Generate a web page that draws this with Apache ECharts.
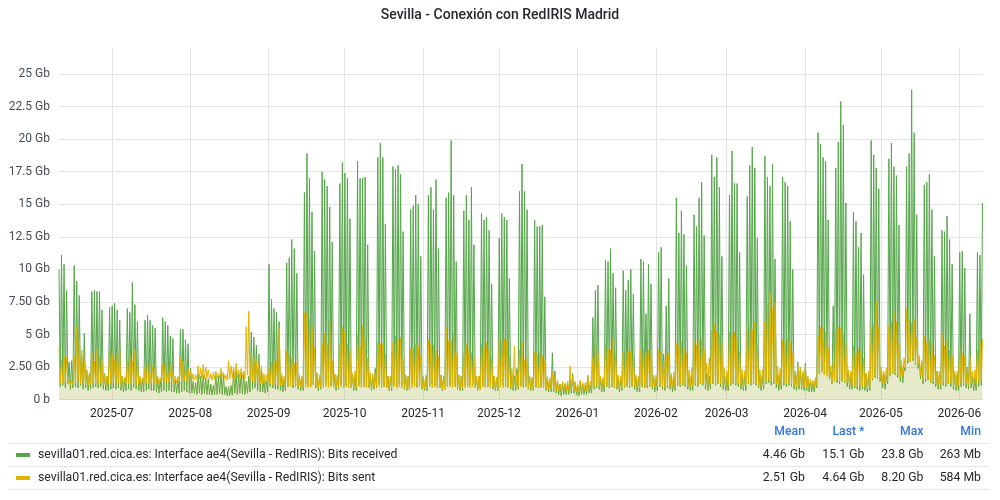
<!DOCTYPE html>
<html>
<head>
<meta charset="utf-8">
<title>Sevilla - Conexión con RedIRIS Madrid</title>
<script src="https://cdn.jsdelivr.net/npm/echarts@6/dist/echarts.min.js"></script>
<style>
  html, body { margin: 0; padding: 0; background: #ffffff; }
  #chart-container { width: 1000px; height: 500px; }
</style>
</head>
<body>
<div id="chart-container"></div>
<script>
// one peak (03:00) and one trough (15:00) per day, first day Tue 2025-06-10
const startDay = Date.UTC(2025, 5, 10, 3);

const recvHi = [
  10.0, 11.1, 10.4, 8.4, 2.9, 3.0,
  10.3, 9.1, 8.0, 3.3, 5.1, 2.2, 2.0,
  8.3, 8.4, 8.3, 8.3, 6.9, 2.0, 1.8,
  // 30 Jun
  7.1, 7.2, 7.4, 6.9, 6.1, 1.8, 1.7,
  7.0, 6.7, 9.0, 7.3, 6.0, 1.7, 1.6,
  6.1, 6.5, 6.1, 5.7, 5.5, 1.6, 1.5,
  6.3, 6.0, 5.7, 4.9, 4.7, 1.5, 1.5,
  5.4, 5.4, 4.6, 4.3, 2.4, 1.4, 1.3,
  // 4 Aug
  2.0, 1.8, 1.9, 1.7, 1.6, 1.2, 1.1,
  1.9, 1.8, 2.2, 1.9, 1.0, 1.0, 1.1,
  2.3, 2.2, 2.0, 2.1, 2.0, 1.4, 1.8,
  5.2, 4.8, 4.2, 3.5, 2.4, 1.5, 1.4,
  // 1 Sep
  10.4, 7.7, 7.0, 6.7, 6.0, 1.8, 1.6,
  10.5, 10.9, 12.3, 11.6, 9.7, 1.8, 1.7,
  15.9, 18.9, 17.0, 14.4, 11.4, 1.9, 1.8,
  17.5, 16.9, 16.4, 14.8, 12.1, 1.9, 1.8,
  16.6, 18.2, 17.4, 17.0, 13.9, 2.0, 1.9,
  // 6 Oct
  18.3, 17.0, 17.0, 17.1, 11.9, 1.9, 1.8,
  2.4, 18.6, 19.7, 18.6, 13.5, 1.8, 1.8,
  17.9, 17.7, 18.0, 17.3, 12.9, 1.9, 1.8,
  14.6, 14.9, 15.7, 15.0, 11.0, 1.7, 1.8,
  // 3 Nov
  15.7, 16.3, 14.6, 16.9, 11.6, 1.9, 1.8,
  15.5, 15.9, 19.9, 15.7, 10.6, 1.9, 1.8,
  14.5, 15.7, 13.8, 16.3, 11.9, 1.8, 1.8,
  14.3, 13.8, 14.0, 13.0, 8.9, 1.8, 1.7,
  // 1 Dec
  12.4, 14.3, 14.0, 13.8, 9.3, 1.9, 1.8,
  2.4, 16.0, 18.1, 16.0, 14.6, 1.8, 1.7,
  13.8, 13.3, 13.3, 13.4, 7.9, 1.6, 1.5,
  3.6, 2.2, 1.4, 1.2, 1.3, 1.2, 1.2,
  1.6, 2.0, 1.3, 1.0, 1.4, 1.2, 1.1,
  // 5 Jan
  1.8, 1.1, 6.3, 8.4, 8.8, 1.6, 1.5,
  10.7, 10.6, 11.6, 9.7, 8.6, 1.7, 1.6,
  9.9, 8.4, 9.2, 10.0, 8.1, 1.7, 1.6,
  10.8, 10.6, 6.6, 10.4, 8.9, 1.8, 1.7,
  // 2 Feb
  11.3, 11.7, 3.5, 7.2, 9.3, 1.8, 1.7,
  15.5, 12.8, 14.5, 12.7, 10.3, 1.9, 1.8,
  14.2, 13.3, 15.5, 16.7, 12.6, 2.0, 1.8,
  18.8, 17.1, 18.6, 16.3, 11.0, 1.8, 1.7,
  // 2 Mar
  15.7, 19.1, 16.6, 16.6, 11.3, 1.9, 1.8,
  15.6, 18.0, 19.4, 17.8, 12.4, 1.9, 1.8,
  18.7, 17.1, 16.4, 18.1, 10.8, 1.9, 1.8,
  17.1, 16.7, 16.4, 13.7, 10.0, 2.0, 2.9,
  2.3, 2.0, 2.8, 1.6, 1.4, 1.3, 1.5,
  // 6 Apr
  20.5, 19.6, 18.6, 18.3, 13.8, 2.2, 7.2,
  17.8, 19.8, 22.9, 21.1, 15.1, 2.2, 2.0,
  14.4, 13.7, 11.7, 12.8, 9.6, 2.0, 1.9,
  19.9, 18.8, 17.8, 16.2, 2.2, 2.0, 1.9,
  // 4 May
  18.5, 19.7, 17.9, 17.2, 13.4, 2.6, 2.5,
  17.9, 18.9, 23.8, 20.5, 14.2, 3.0, 2.8,
  16.5, 16.7, 17.3, 14.6, 11.0, 2.2, 2.0,
  13.0, 12.9, 14.1, 12.3, 10.4, 2.0, 1.9,
  // 1 Jun
  11.3, 11.4, 10.1, 2.5, 6.6, 1.8, 1.7,
  11.3, 11.1, 15.1
];

const recvLo = [
  1.0, 1.1, 0.9, 1.2, 0.8, 0.9,
  1.0, 0.9, 1.1, 0.8, 0.9, 0.7, 0.8,
  0.9, 1.0, 0.9, 1.0, 0.8, 0.7, 0.7,
  0.8, 0.9, 0.8, 0.9, 0.7, 0.6, 0.7,
  0.8, 0.7, 0.9, 0.8, 0.7, 0.6, 0.6,
  0.7, 0.8, 0.7, 0.7, 0.6, 0.5, 0.6,
  0.7, 0.6, 0.7, 0.6, 0.6, 0.5, 0.5,
  0.6, 0.7, 0.6, 0.5, 0.5, 0.5, 0.4,
  0.5, 0.4, 0.5, 0.4, 0.4, 0.35, 0.4,
  0.4, 0.5, 0.4, 0.4, 0.3, 0.32, 0.35,
  0.5, 0.4, 0.5, 0.45, 0.4, 0.5, 0.6,
  0.8, 0.9, 0.7, 0.6, 0.6, 0.5, 0.6,
  1.0, 0.9, 0.8, 0.8, 0.7, 0.6, 0.7,
  1.0, 1.1, 0.9, 1.0, 0.8, 0.7, 0.7,
  1.2, 1.1, 1.0, 1.2, 0.9, 0.7, 0.8,
  1.1, 1.3, 1.0, 1.1, 0.9, 0.7, 0.8,
  1.2, 1.0, 1.1, 1.2, 0.9, 0.7, 0.7,
  1.1, 1.2, 1.0, 1.1, 0.9, 0.7, 0.8,
  0.9, 1.2, 1.1, 1.0, 0.9, 0.7, 0.7,
  1.1, 1.0, 1.2, 1.1, 0.8, 0.7, 0.8,
  1.2, 1.1, 1.0, 1.1, 0.8, 0.7, 0.7,
  1.1, 1.2, 1.0, 1.1, 0.9, 0.7, 0.8,
  1.0, 1.1, 1.2, 1.0, 0.8, 0.7, 0.7,
  1.1, 1.0, 1.1, 1.2, 0.9, 0.7, 0.8,
  1.0, 1.1, 1.0, 1.1, 0.8, 0.7, 0.7,
  1.0, 1.1, 1.0, 1.0, 0.8, 0.7, 0.7,
  0.8, 1.1, 1.0, 1.0, 0.8, 0.7, 0.7,
  1.0, 0.9, 1.0, 0.9, 0.7, 0.6, 0.6,
  0.6, 0.5, 0.4, 0.27, 0.4, 0.4, 0.4,
  0.5, 0.5, 0.35, 0.3, 0.4, 0.4, 0.4,
  0.5, 0.5, 0.8, 0.9, 0.8, 0.6, 0.6,
  1.0, 0.9, 1.0, 0.9, 0.8, 0.6, 0.7,
  0.9, 1.0, 0.9, 1.0, 0.8, 0.6, 0.6,
  1.0, 0.9, 0.9, 1.0, 0.8, 0.6, 0.7,
  1.0, 0.8, 0.7, 0.9, 0.8, 0.6, 0.7,
  1.1, 1.0, 1.1, 1.0, 0.8, 0.7, 0.7,
  1.1, 1.0, 1.2, 1.1, 0.8, 0.7, 0.8,
  1.2, 1.1, 1.2, 1.0, 0.8, 0.7, 0.7,
  1.1, 1.2, 1.1, 1.0, 0.8, 0.7, 0.7,
  1.2, 1.1, 1.2, 1.1, 0.9, 0.7, 0.8,
  1.2, 1.3, 1.1, 1.2, 0.9, 0.7, 0.8,
  1.1, 1.0, 1.1, 1.0, 0.8, 0.7, 0.8,
  0.8, 0.7, 0.7, 0.6, 0.6, 0.6, 0.9,
  2.0, 2.2, 1.9, 2.1, 1.6, 1.2, 1.4,
  1.3, 1.2, 1.4, 1.3, 1.0, 0.8, 0.8,
  0.9, 0.8, 0.7, 0.8, 0.7, 0.6, 0.7,
  1.5, 1.7, 1.6, 1.4, 0.9, 0.8, 1.2,
  1.8, 2.0, 1.9, 1.7, 1.4, 1.3, 2.2,
  2.8, 2.9, 3.0, 2.7, 2.4, 1.6, 1.2,
  1.4, 1.5, 1.3, 1.2, 1.0, 0.8, 0.8,
  1.1, 1.0, 1.2, 1.0, 0.8, 0.7, 0.7,
  1.0, 1.1, 0.9, 0.8, 0.9, 0.7, 0.7,
  1.0, 1.1
];

const sentHi = [
  4.0, 3.0, 3.4, 3.2, 1.6, 1.5,
  3.4, 5.6, 4.6, 3.8, 3.0, 2.3, 2.0,
  3.6, 2.9, 3.8, 3.3, 3.0, 1.9, 1.8,
  3.9, 3.5, 3.0, 3.5, 3.8, 1.8, 1.7,
  3.0, 3.5, 2.9, 3.8, 2.9, 1.8, 1.7,
  2.5, 3.0, 2.0, 2.6, 2.4, 1.8, 1.7,
  2.7, 2.9, 2.1, 2.6, 2.2, 1.8, 1.8,
  3.2, 2.9, 2.3, 2.5, 2.2, 2.0, 1.9,
  2.6, 2.4, 2.7, 2.5, 2.3, 2.0, 2.1,
  2.2, 2.0, 2.4, 2.1, 1.9, 3.0, 2.6,
  2.5, 2.8, 2.3, 2.4, 2.2, 5.6, 6.8,
  3.5, 3.2, 3.0, 2.8, 2.6, 2.0, 1.9,
  2.4, 2.9, 3.0, 2.9, 5.5, 2.0, 1.8,
  3.8, 3.5, 3.2, 2.8, 2.9, 1.9, 1.8,
  6.7, 6.6, 6.2, 5.6, 4.0, 2.1, 1.9,
  4.3, 5.1, 4.3, 6.1, 3.0, 2.0, 1.9,
  4.3, 5.6, 5.2, 4.3, 3.8, 2.0, 2.2,
  5.0, 4.1, 5.7, 4.8, 3.2, 2.1, 2.0,
  2.0, 4.5, 4.3, 4.3, 3.5, 1.8, 1.8,
  4.4, 4.9, 4.6, 4.8, 3.2, 1.9, 1.8,
  3.9, 4.0, 4.3, 4.1, 3.4, 1.8, 1.9,
  4.6, 4.3, 4.2, 3.8, 3.3, 1.9, 1.8,
  5.5, 4.5, 4.6, 5.1, 3.6, 1.9, 1.8,
  3.6, 4.3, 3.9, 3.6, 3.3, 1.8, 1.8,
  4.3, 4.0, 4.4, 3.9, 3.2, 1.8, 1.7,
  4.7, 4.5, 4.7, 4.6, 3.4, 2.4, 4.1,
  2.0, 3.8, 4.5, 3.0, 3.3, 1.8, 1.7,
  3.7, 3.5, 3.6, 3.4, 3.0, 1.8, 1.7,
  2.2, 1.8, 1.5, 1.2, 1.4, 1.3, 1.4,
  2.6, 1.8, 1.4, 1.2, 1.5, 1.3, 1.3,
  1.9, 1.4, 3.2, 4.3, 3.6, 1.8, 1.7,
  4.3, 3.9, 3.8, 4.7, 3.6, 1.9, 1.8,
  3.7, 3.6, 3.8, 3.7, 3.3, 1.9, 1.8,
  3.8, 3.9, 3.6, 3.8, 3.4, 1.9, 1.9,
  3.9, 3.7, 3.0, 3.5, 3.6, 2.0, 2.1,
  4.4, 4.2, 4.4, 4.0, 3.6, 2.3, 2.4,
  4.4, 4.2, 4.6, 4.7, 3.8, 2.8, 3.2,
  5.3, 5.9, 5.2, 5.0, 4.3, 2.4, 2.2,
  5.2, 5.0, 5.2, 4.8, 3.7, 2.3, 2.2,
  5.3, 5.6, 5.4, 6.0, 4.2, 2.3, 2.3,
  6.0, 7.3, 8.2, 7.0, 7.5, 2.6, 2.4,
  4.6, 4.4, 4.7, 4.5, 3.6, 2.2, 2.6,
  2.5, 2.2, 2.6, 1.8, 1.6, 1.5, 1.7,
  4.9, 5.6, 5.5, 5.2, 4.0, 2.6, 2.8,
  5.4, 5.6, 5.5, 5.0, 4.3, 2.3, 2.2,
  4.1, 3.6, 3.9, 3.7, 3.2, 2.0, 2.2,
  5.6, 5.8, 7.5, 5.6, 2.5, 2.2, 2.4,
  5.7, 6.0, 6.8, 6.0, 4.3, 3.0, 3.2,
  7.0, 6.2, 5.9, 6.2, 4.8, 3.4, 3.0,
  4.9, 4.4, 4.6, 4.4, 3.4, 2.2, 2.2,
  5.1, 4.1, 4.6, 3.8, 3.4, 2.2, 2.2,
  3.8, 3.6, 3.4, 2.4, 3.3, 2.2, 2.3,
  3.8, 4.4, 4.64
];

const sentLo = [
  1.3, 1.2, 1.4, 1.2, 1.1, 1.2,
  1.3, 1.4, 1.2, 1.3, 1.2, 1.1, 1.2,
  1.3, 1.2, 1.3, 1.2, 1.1, 1.1, 1.2,
  1.2, 1.3, 1.2, 1.3, 1.1, 1.1, 1.2,
  1.2, 1.3, 1.2, 1.1, 1.2, 1.1, 1.2,
  1.3, 1.2, 1.3, 1.2, 1.2, 1.2, 1.3,
  1.3, 1.4, 1.3, 1.4, 1.3, 1.3, 1.4,
  1.4, 1.5, 1.4, 1.5, 1.5, 1.5, 1.6,
  1.6, 1.7, 1.6, 1.7, 1.6, 1.5, 1.6,
  1.7, 1.6, 1.8, 1.6, 1.5, 1.6, 1.7,
  1.6, 1.7, 1.6, 1.7, 1.6, 1.9, 1.6,
  1.4, 1.3, 1.3, 1.2, 1.2, 1.2, 1.2,
  1.2, 1.1, 1.2, 1.1, 1.1, 1.1, 1.0,
  1.1, 1.0, 1.1, 1.0, 1.0, 0.9, 1.0,
  1.0, 0.9, 1.0, 1.1, 1.0, 0.9, 0.9,
  0.9, 1.0, 0.9, 1.0, 0.9, 0.9, 0.9,
  1.0, 0.9, 1.0, 0.9, 0.9, 0.9, 1.0,
  1.0, 0.9, 1.0, 0.9, 0.9, 0.8, 0.9,
  1.0, 1.0, 0.9, 1.0, 0.9, 0.8, 0.9,
  1.0, 0.9, 1.0, 0.9, 0.9, 0.8, 0.8,
  0.9, 1.0, 0.9, 1.0, 0.9, 0.8, 0.9,
  1.0, 0.9, 1.0, 0.9, 0.9, 0.8, 0.8,
  1.0, 1.0, 0.9, 1.0, 0.9, 0.8, 0.9,
  0.9, 1.0, 0.9, 1.0, 0.9, 0.8, 0.8,
  1.0, 0.9, 1.0, 0.9, 0.9, 0.8, 0.8,
  1.0, 0.9, 1.0, 0.9, 0.9, 0.9, 1.0,
  0.9, 1.0, 0.9, 1.0, 0.9, 0.8, 0.8,
  0.9, 1.0, 0.9, 0.9, 0.8, 0.8, 0.8,
  0.8, 0.7, 0.7, 0.65, 0.7, 0.7, 0.7,
  0.8, 0.7, 0.7, 0.584, 0.7, 0.7, 0.7,
  0.8, 0.8, 1.0, 1.1, 1.0, 0.9, 0.9,
  1.1, 1.0, 1.1, 1.0, 1.0, 0.9, 0.9,
  1.0, 1.1, 1.0, 1.1, 1.0, 0.9, 0.9,
  1.1, 1.0, 1.1, 1.0, 1.0, 0.9, 1.0,
  1.1, 1.0, 1.0, 1.1, 1.0, 1.0, 1.1,
  1.2, 1.1, 1.2, 1.1, 1.0, 1.0, 1.1,
  1.2, 1.1, 1.2, 1.2, 1.1, 1.1, 1.2,
  1.3, 1.2, 1.3, 1.2, 1.1, 1.0, 1.1,
  1.2, 1.3, 1.2, 1.2, 1.1, 1.0, 1.1,
  1.3, 1.2, 1.3, 1.2, 1.1, 1.0, 1.1,
  1.4, 1.5, 1.4, 1.3, 1.2, 1.1, 1.1,
  1.3, 1.2, 1.3, 1.2, 1.1, 1.0, 1.1,
  1.0, 1.0, 0.9, 0.9, 0.9, 0.9, 1.1,
  2.0, 2.1, 1.9, 1.8, 1.5, 1.3, 1.4,
  1.5, 1.4, 1.5, 1.4, 1.3, 1.1, 1.1,
  1.1, 1.0, 1.1, 1.0, 1.0, 0.9, 1.0,
  1.6, 1.8, 1.7, 1.6, 1.3, 1.2, 1.4,
  1.9, 2.1, 2.0, 1.9, 1.7, 1.8, 2.4,
  3.0, 2.9, 3.1, 2.8, 2.6, 1.9, 1.5,
  1.6, 1.5, 1.4, 1.4, 1.2, 1.1, 1.2,
  1.3, 1.2, 1.3, 1.2, 1.1, 1.0, 1.1,
  1.3, 1.2, 1.3, 1.1, 1.2, 1.1, 1.2,
  1.4, 1.5
];

const yTickLabels = ['0 b', '2.50 Gb', '5 Gb', '7.50 Gb', '10 Gb', '12.5 Gb', '15 Gb', '17.5 Gb', '20 Gb', '22.5 Gb', '25 Gb'];
const seriesNames = [
  'sevilla01.red.cica.es: Interface ae4(Sevilla - RedIRIS): Bits received',
  'sevilla01.red.cica.es: Interface ae4(Sevilla - RedIRIS): Bits sent'
];
const statHeaders = ['Mean', 'Last *', 'Max', 'Min'];
const recvStats = ['4.46 Gb', '15.1 Gb', '23.8 Gb', '263 Mb'];
const sentStats = ['2.51 Gb', '4.64 Gb', '8.20 Gb', '584 Mb'];

const DAY = 86400000;
const GREEN = '#56a64b';
const YELLOW = '#e0b400';
const TEXT = '#24292e';
const FONT = 'Roboto, "Noto Sans", sans-serif';

function buildSeries(hi, lo) {
  const out = [];
  for (let i = 0; i < hi.length; i++) {
    const t = startDay + i * DAY;
    out.push([t, hi[i]]);
    if (i < lo.length) out.push([t + DAY / 2, lo[i]]);
  }
  return out;
}

const recvData = buildSeries(recvHi, recvLo);
const sentData = buildSeries(sentHi, sentLo);
const endTime = recvData[recvData.length - 1][0];

function pad2(n) { return n < 10 ? '0' + n : '' + n; }

// legend table under the plot
const colRight = [805, 864.5, 923.5, 981];
const graphics = [];
[443.5, 466.5, 489.5].forEach(y => {
  graphics.push({
    type: 'line', silent: true,
    shape: { x1: 8, y1: y, x2: 990, y2: y },
    style: { stroke: '#e6e6e6', lineWidth: 1 }
  });
});
statHeaders.forEach((h, i) => {
  graphics.push({
    type: 'text', silent: true, x: colRight[i], y: 432,
    style: { text: h, align: 'right', verticalAlign: 'middle', fill: '#3274d9', font: '500 12.25px ' + FONT }
  });
});
[[recvStats, GREEN, 455], [sentStats, YELLOW, 478]].forEach(([stats, color, y], r) => {
  graphics.push({
    type: 'rect', silent: true,
    shape: { x: 16, y: y - 2, width: 14, height: 4 },
    style: { fill: color }
  });
  graphics.push({
    type: 'text', silent: true, x: 38, y: y,
    style: { text: seriesNames[r], align: 'left', verticalAlign: 'middle', fill: TEXT, font: '12.25px ' + FONT }
  });
  stats.forEach((s, i) => {
    graphics.push({
      type: 'text', silent: true, x: colRight[i], y: y,
      style: { text: s, align: 'right', verticalAlign: 'middle', fill: TEXT, font: '12.25px ' + FONT }
    });
  });
});

const chart = echarts.init(document.getElementById('chart-container'));
chart.setOption({
  animation: false,
  useUTC: true,
  backgroundColor: '#ffffff',
  title: {
    text: 'Sevilla - Conexión con RedIRIS Madrid',
    left: 'center',
    top: 8,
    padding: 0,
    textStyle: { color: TEXT, fontSize: 14, fontWeight: 500, fontFamily: FONT }
  },
  grid: { left: 59, right: 17.5, top: 48, bottom: 100.3, containLabel: false, outerBoundsMode: 'none' },
  xAxis: {
    type: 'time',
    min: startDay,
    max: endTime,
    splitNumber: 12,
    axisLine: { show: false },
    axisTick: { show: false },
    axisLabel: {
      color: TEXT,
      fontSize: 12,
      fontFamily: FONT,
      margin: 8,
      hideOverlap: false,
      formatter: function (v) {
        const d = new Date(v);
        if (d.getUTCDate() !== 1 || d.getUTCHours() !== 0) return '';
        return d.getUTCFullYear() + '-' + pad2(d.getUTCMonth() + 1);
      }
    },
    splitLine: { show: true, showMinLine: false, showMaxLine: false, lineStyle: { color: '#e4e4e4', width: 1 } }
  },
  yAxis: {
    type: 'value',
    min: 0,
    max: 27,
    interval: 2.5,
    axisLine: { show: false },
    axisTick: { show: false },
    axisLabel: {
      color: '#464c54',
      fontSize: 12,
      fontFamily: FONT,
      margin: 9,
      showMaxLabel: false,
      formatter: function (v) {
        const lbl = yTickLabels[Math.round(v / 2.5)];
        return Math.abs(v / 2.5 - Math.round(v / 2.5)) < 1e-6 && lbl ? lbl : '';
      }
    },
    splitLine: { show: true, showMaxLine: false, lineStyle: { color: '#e4e4e4', width: 1 } }
  },
  series: [
    {
      name: seriesNames[0],
      type: 'line',
      data: recvData,
      showSymbol: false,
      symbol: 'none',
      lineStyle: { color: GREEN, width: 1 },
      itemStyle: { color: GREEN },
      areaStyle: { color: GREEN, opacity: 0.13 },
      z: 2
    },
    {
      name: seriesNames[1],
      type: 'line',
      data: sentData,
      showSymbol: false,
      symbol: 'none',
      lineStyle: { color: YELLOW, width: 1 },
      itemStyle: { color: YELLOW },
      areaStyle: { color: YELLOW, opacity: 0.13 },
      z: 3
    }
  ],
  graphic: graphics
});

window.addEventListener('resize', () => chart.resize());
</script>
</body>
</html>
